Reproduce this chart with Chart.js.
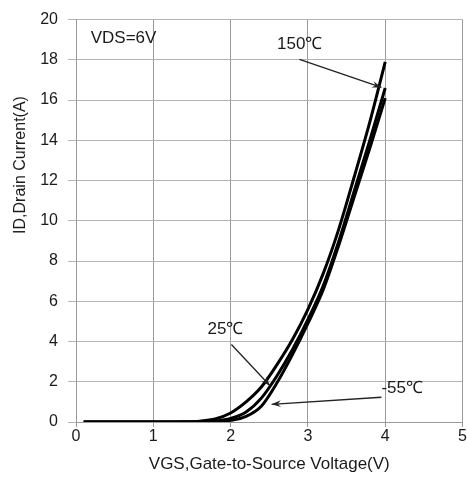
<!DOCTYPE html>
<html>
<head>
<meta charset="utf-8">
<script src="https://cdn.jsdelivr.net/npm/chart.js@4"></script>
<style>
  body { margin: 0; background: #fff; }
  #wrap { width: 467px; height: 480px; }
</style>
</head>
<body>
<div id="wrap"><canvas id="transferChart" width="467" height="480"></canvas></div>
<script>
// Transfer characteristics
const vgs = [0.1, 1.0, 1.4, 1.6, 1.8, 2.0, 2.2, 2.4, 2.6, 2.8, 3.0, 3.2, 3.4, 3.6, 3.8, 4.0];
const id150 = [0, 0, 0.01, 0.04, 0.15, 0.45, 1.0, 1.75, 2.85, 4.1, 5.6, 7.4, 9.6, 12.2, 14.9, 17.9];
const id25 = [0, 0, 0, 0.01, 0.05, 0.18, 0.5, 1.2, 2.3, 3.6, 5.1, 6.8, 9.0, 11.5, 14.0, 16.6];
const idMinus55 = [0, 0, 0, 0, 0.02, 0.08, 0.28, 0.8, 1.95, 3.35, 4.9, 6.6, 8.8, 11.2, 13.6, 16.1];
const seriesNames = ["150℃", "25℃", "-55℃"];
const xTicks = [0, 1, 2, 3, 4, 5];
const yTicks = [0, 2, 4, 6, 8, 10, 12, 14, 16, 18, 20];

const FONT = "'Liberation Sans', Arial, sans-serif";

// text notes and arrows, placed in data units
const notes = [
  { text: "VDS=6V", x: 0.19, y: 19.05 },
  { text: "150℃", x: 2.6, y: 18.78 },
  { text: "25℃", x: 1.7, y: 4.61 },
  { text: "-55℃", x: 3.95, y: 1.66 }
];
const arrows = [
  { from: [2.89, 18.02], to: [3.95, 16.63] },
  { from: [2.01, 3.85], to: [2.51, 1.8] },
  { from: [3.95, 1.23], to: [2.53, 0.88] }
];

function toPoints(ys) {
  return vgs.map((v, i) => ({ x: v, y: ys[i] }));
}

function lineSet(label, ys) {
  return {
    label: label,
    data: toPoints(ys),
    borderColor: "#000",
    borderWidth: 3,
    pointRadius: 0,
    cubicInterpolationMode: "monotone",
    fill: false
  };
}

const notesPlugin = {
  id: "notes",
  afterDatasetsDraw(chart) {
    const ctx = chart.ctx;
    const sx = chart.scales.x, sy = chart.scales.y;
    ctx.save();
    ctx.fillStyle = "#1a1a1a";
    ctx.font = "17px " + FONT;
    ctx.textBaseline = "middle";
    ctx.textAlign = "left";
    notes.forEach(n => ctx.fillText(n.text, sx.getPixelForValue(n.x), sy.getPixelForValue(n.y)));

    ctx.strokeStyle = "#222";
    ctx.fillStyle = "#222";
    ctx.lineWidth = 1.3;
    arrows.forEach(a => {
      const x1 = sx.getPixelForValue(a.from[0]), y1 = sy.getPixelForValue(a.from[1]);
      const x2 = sx.getPixelForValue(a.to[0]), y2 = sy.getPixelForValue(a.to[1]);
      const ang = Math.atan2(y2 - y1, x2 - x1);
      ctx.beginPath();
      ctx.moveTo(x1, y1);
      ctx.lineTo(x2, y2);
      ctx.stroke();
      ctx.beginPath();
      ctx.moveTo(x2, y2);
      ctx.lineTo(x2 - 10 * Math.cos(ang - 0.35), y2 - 10 * Math.sin(ang - 0.35));
      ctx.lineTo(x2 - 6 * Math.cos(ang), y2 - 6 * Math.sin(ang));
      ctx.lineTo(x2 - 10 * Math.cos(ang + 0.35), y2 - 10 * Math.sin(ang + 0.35));
      ctx.closePath();
      ctx.fill();
    });

    // y axis title sits above the middle in the original
    ctx.fillStyle = "#1a1a1a";
    ctx.font = "16px " + FONT;
    ctx.textAlign = "center";
    ctx.translate(21, 165);
    ctx.rotate(-Math.PI / 2);
    ctx.fillText("ID,Drain Current(A)", 0, 0);
    ctx.restore();
  }
};

new Chart(document.getElementById("transferChart"), {
  type: "line",
  data: {
    datasets: [
      lineSet(seriesNames[0], id150),
      lineSet(seriesNames[1], id25),
      lineSet(seriesNames[2], idMinus55)
    ]
  },
  options: {
    responsive: false,
    animation: false,
    layout: { padding: { top: 12, right: 4, left: 0, bottom: 0 } },
    plugins: {
      legend: { display: false },
      tooltip: { enabled: false }
    },
    scales: {
      x: {
        type: "linear",
        min: 0,
        max: 5,
        afterBuildTicks: s => { s.ticks = xTicks.map(v => ({ value: v })); },
        afterFit: s => { s.height = 58; },
        grid: { color: "#9a9a9a", tickLength: 5, lineWidth: 1 },
        border: { color: "#9a9a9a" },
        ticks: { color: "#1a1a1a", padding: 0, font: { family: FONT, size: 16 } },
        title: {
          display: true,
          text: "VGS,Gate-to-Source Voltage(V)",
          color: "#1a1a1a",
          padding: { top: 0, bottom: 5 },
          font: { family: FONT, size: 17 }
        }
      },
      y: {
        min: 0,
        max: 20,
        afterBuildTicks: s => { s.ticks = yTicks.map(v => ({ value: v })); },
        afterFit: s => { s.width = 76; },
        grid: { color: "#b4b4b4", tickLength: 8, lineWidth: 1 },
        border: { color: "#9a9a9a" },
        ticks: { color: "#1a1a1a", padding: 10, font: { family: FONT, size: 16 } }
      }
    }
  },
  plugins: [notesPlugin]
});
</script>
</body>
</html>
